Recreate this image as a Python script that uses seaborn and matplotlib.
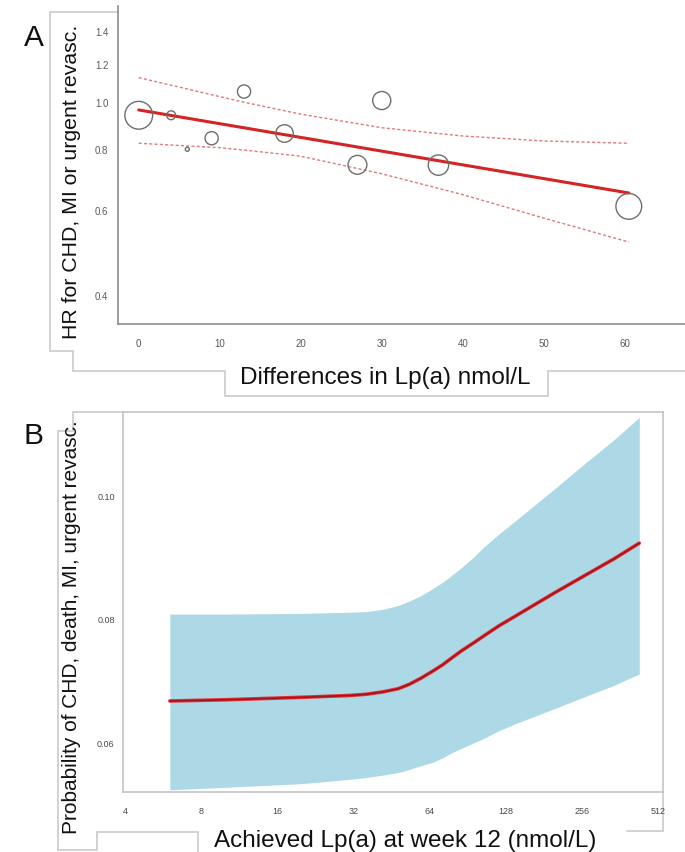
import matplotlib
matplotlib.use("Agg")
import matplotlib.pyplot as plt
import seaborn as sns
from matplotlib import font_manager
from matplotlib.lines import Line2D
from matplotlib.ticker import FixedLocator, FixedFormatter, NullLocator

# ---- Panel A: study-level hazard ratios vs. difference in Lp(a) ----
diff_lpa = [0, 4, 6, 9, 13, 18, 27, 30, 37, 60.5]
hr = [0.940, 0.940, 0.800, 0.843, 1.052, 0.862, 0.743, 1.008, 0.742, 0.610]
weight_pct = [23.5, 2.4, 0.5, 5.3, 5.3, 9.4, 10.8, 10.0, 12.6, 20.2]

fit_x = [0, 60.5]
fit_hr = [0.964, 0.650]

ci_x = [0, 10, 13, 20, 30, 40, 50, 60.5]
ci_upper = [1.124, 1.027, 1.000, 0.945, 0.886, 0.852, 0.832, 0.823]
ci_lower = [0.823, 0.806, 0.797, 0.774, 0.712, 0.645, 0.577, 0.515]

a_xticks = [0, 10, 20, 30, 40, 50, 60]
a_yticks = [0.4, 0.6, 0.8, 1.0, 1.2, 1.4]
a_ylabels = ["0.4", "0.6", "0.8", "1.0", "1.2", "1.4"]

# ---- Panel B: modelled event probability vs. achieved Lp(a) ----
lpa_week12 = [6, 10, 20, 31, 36, 42, 48, 53, 59, 66, 72, 77, 85, 95, 104,
              120, 141, 200, 258, 340, 430]
prob = [0.0667, 0.0669, 0.0673, 0.0676, 0.0678, 0.0682, 0.0687, 0.0694,
        0.0704, 0.0716, 0.0726, 0.0735, 0.0748, 0.0761, 0.0772, 0.0789,
        0.0806, 0.0843, 0.0869, 0.0897, 0.0923]
prob_upper = [0.0808, 0.0808, 0.0809, 0.0811, 0.0812, 0.0816, 0.0822, 0.0829,
              0.0838, 0.0850, 0.0860, 0.0869, 0.0883, 0.0900, 0.0916, 0.0938,
              0.0961, 0.1012, 0.1050, 0.1090, 0.1127]
prob_lower = [0.0523, 0.0527, 0.0533, 0.0540, 0.0543, 0.0547, 0.0551, 0.0556,
              0.0562, 0.0568, 0.0575, 0.0582, 0.0590, 0.0599, 0.0606, 0.0619,
              0.0631, 0.0655, 0.0673, 0.0692, 0.0711]

b_xticks = [4, 8, 16, 32, 64, 128, 256, 512]
b_yticks = [0.06, 0.08, 0.10]
b_ylabels = ["0.06", "0.08", "0.10"]

sns.set_style("white")
plt.rcParams["font.family"] = ["Liberation Sans", "DejaVu Sans"]
plt.rcParams["text.color"] = "#111111"

installed = {f.name for f in font_manager.fontManager.ttflist}
tick_family = ["Liberation Sans Narrow"] if "Liberation Sans Narrow" in installed else ["Liberation Sans"]

W, H = 685, 853
fig = plt.figure(figsize=(W / 100, H / 100), dpi=100)


def fx(x):
    return x / W


def fy(y):
    return 1 - y / H


def outline(points, color="#cfcfcf", lw=1.3):
    xs = [fx(p[0]) for p in points]
    ys = [fy(p[1]) for p in points]
    fig.add_artist(Line2D(xs, ys, transform=fig.transFigure, color=color,
                          lw=lw, solid_joinstyle="miter", zorder=0))


# label frames
outline([(118, 13), (50, 13), (50, 352), (73, 352), (73, 372), (225, 372),
         (225, 397), (548, 397), (548, 372), (685, 372)])
outline([(123, 413), (73, 413), (73, 432), (58, 432), (58, 851), (97, 851),
         (97, 833), (198, 833), (198, 853)])
outline([(627, 832), (663, 832), (663, 793)])

# ---------------- Panel A ----------------
axA = fig.add_axes([fx(118), fy(325), (685 - 118) / W, (325 - 7) / H])
axA.set_facecolor("none")

sns.lineplot(x=ci_x, y=ci_upper, ax=axA, color="#e07a7a", lw=1.0,
             linestyle=(0, (2.2, 1.6)))
sns.lineplot(x=ci_x, y=ci_lower, ax=axA, color="#e07a7a", lw=1.0,
             linestyle=(0, (2.2, 1.6)))
sns.lineplot(x=fit_x, y=fit_hr, ax=axA, color="#d42424", lw=2.2)

max_w = max(weight_pct)
sns.scatterplot(x=diff_lpa, y=hr, size=weight_pct, sizes=(0, 400),
                size_norm=(0, max_w), ax=axA, color="#6e6e6e",
                facecolor="none", edgecolor="#6e6e6e", linewidth=1.0,
                legend=False, zorder=3)

axA.set_yscale("log")
axA.set_xlim(-2.56, 67.44)
axA.set_ylim(0.349, 1.579)
axA.xaxis.set_major_locator(FixedLocator(a_xticks))
axA.yaxis.set_major_locator(FixedLocator(a_yticks))
axA.yaxis.set_major_formatter(FixedFormatter(a_ylabels))
axA.yaxis.set_minor_locator(NullLocator())
axA.xaxis.set_minor_locator(NullLocator())
for side in ("top", "right"):
    axA.spines[side].set_visible(False)
for side in ("left", "bottom"):
    axA.spines[side].set_color("#8c8c8c")
    axA.spines[side].set_linewidth(1.2)
axA.tick_params(axis="both", which="major", direction="out", length=4,
                width=0.9, color="#8c8c8c", labelsize=7, labelcolor="#5a5a5a")
axA.tick_params(axis="x", pad=6)
axA.tick_params(axis="y", pad=3)
for lab in axA.get_xticklabels() + axA.get_yticklabels():
    lab.set_family(tick_family)
axA.set_xlabel("")
axA.set_ylabel("")

# ---------------- Panel B ----------------
axB = fig.add_axes([fx(123), fy(793), (663 - 123) / W, (793 - 413) / H])
axB.set_facecolor("none")
axB.set_xscale("log", base=2)
axB.fill_between(lpa_week12, prob_lower, prob_upper, color="#add8e6", lw=0)
sns.lineplot(x=lpa_week12, y=prob, ax=axB, color="#e03434", lw=2.6)
sns.lineplot(x=lpa_week12, y=prob, ax=axB, color="#a8141e", lw=1.3)

axB.set_xlim(3.917, 533.6)
axB.set_ylim(0.05194, 0.11357)
axB.xaxis.set_major_locator(FixedLocator(b_xticks))
axB.xaxis.set_major_formatter(FixedFormatter([str(t) for t in b_xticks]))
axB.xaxis.set_minor_locator(NullLocator())
axB.yaxis.set_major_locator(FixedLocator(b_yticks))
axB.yaxis.set_major_formatter(FixedFormatter(b_ylabels))
for side in ("top", "right", "left", "bottom"):
    axB.spines[side].set_color("#c4c4c4")
    axB.spines[side].set_linewidth(1.2)
axB.tick_params(axis="both", which="major", direction="out", length=4,
                width=0.9, color="#c4c4c4", labelsize=6.5, labelcolor="#4a4a4a")
axB.tick_params(axis="x", pad=6)
axB.tick_params(axis="y", pad=2)
for lab in axB.get_xticklabels() + axB.get_yticklabels():
    lab.set_family(tick_family)
axB.set_xlabel("")
axB.set_ylabel("")

# ---------------- text ----------------
fig.text(fx(34), fy(38), "A", fontsize=21.5, ha="center", va="center")
fig.text(fx(33), fy(436), "B", fontsize=21.5, ha="center", va="center")
fig.text(fx(72), fy(182), "HR for CHD, MI or urgent revasc.", fontsize=15.3,
         rotation=90, ha="center", va="center")
fig.text(fx(385), fy(378), "Differences in Lp(a) nmol/L", fontsize=17.5,
         ha="center", va="center")
fig.text(fx(72), fy(627), "Probability of CHD, death, MI, urgent revasc.",
         fontsize=15, rotation=90, ha="center", va="center")
fig.text(fx(405), fy(841), "Achieved Lp(a) at week 12 (nmol/L)", fontsize=17.5,
         ha="center", va="center")

fig.savefig("out.png", dpi=100, facecolor="white")
